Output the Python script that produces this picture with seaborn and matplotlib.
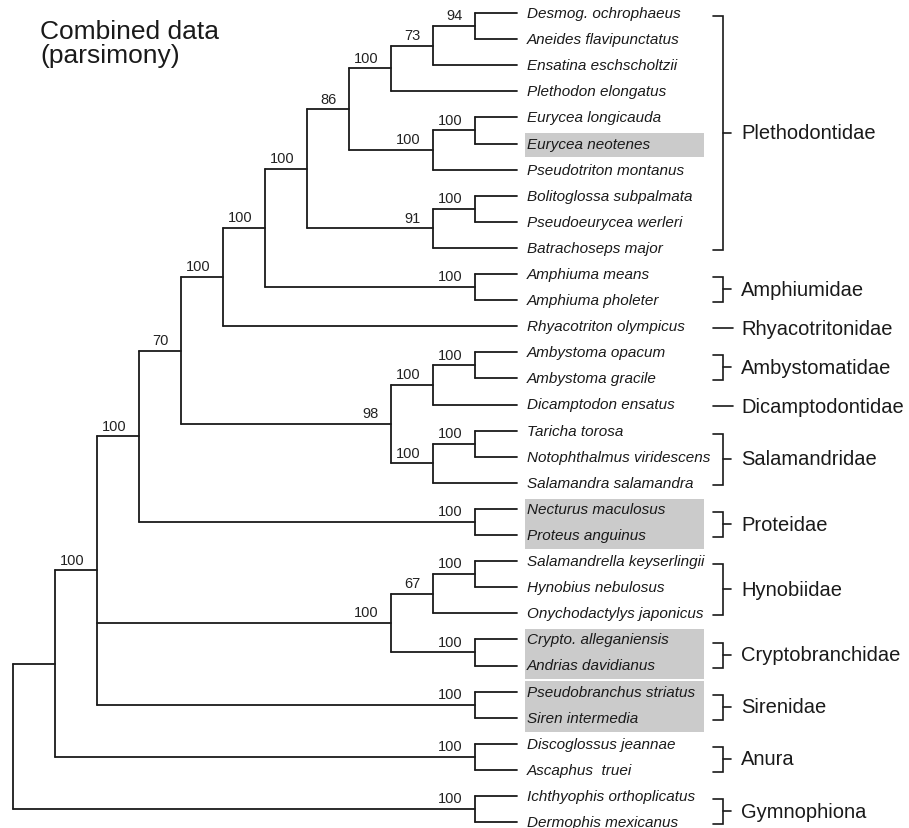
import matplotlib
matplotlib.use("Agg")
import matplotlib.pyplot as plt
import seaborn as sns
import pandas as pd

# ---------------- data ----------------
TITLE = "Combined data\n(parsimony)"

LEAVES = [
    "Desmog. ochrophaeus", "Aneides flavipunctatus", "Ensatina eschscholtzii",
    "Plethodon elongatus", "Eurycea longicauda", "Eurycea neotenes",
    "Pseudotriton montanus", "Bolitoglossa subpalmata", "Pseudoeurycea werleri",
    "Batrachoseps major", "Amphiuma means", "Amphiuma pholeter",
    "Rhyacotriton olympicus", "Ambystoma opacum", "Ambystoma gracile",
    "Dicamptodon ensatus", "Taricha torosa", "Notophthalmus viridescens",
    "Salamandra salamandra", "Necturus maculosus", "Proteus anguinus",
    "Salamandrella keyserlingii", "Hynobius nebulosus", "Onychodactylys japonicus",
    "Crypto. alleganiensis", "Andrias davidianus", "Pseudobranchus striatus",
    "Siren intermedia", "Discoglossus jeannae", "Ascaphus  truei",
    "Ichthyophis orthoplicatus", "Dermophis mexicanus",
]

# topology (leaf indices) with bootstrap support after each clade
TREE = ("((((((((((((0,1)94,2)73,3)100,((4,5)100,6)100)86,((7,8)100,9)91)100,"
        "(10,11)100)100,12)100,(((13,14)100,15)100,((16,17)100,18)100)98)70,"
        "(19,20)100)100,(((21,22)100,23)67,(24,25)100)100,(26,27)100)100,"
        "(28,29)100),(30,31)100)")

FAMILIES = ["Plethodontidae", "Amphiumidae", "Rhyacotritonidae", "Ambystomatidae",
            "Dicamptodontidae", "Salamandridae", "Proteidae", "Hynobiidae",
            "Cryptobranchidae", "Sirenidae", "Anura", "Gymnophiona"]
FAMILY_FIRST = [0, 10, 12, 13, 15, 16, 19, 21, 24, 26, 28, 30]
FAMILY_LAST = [9, 11, 12, 14, 15, 18, 20, 23, 25, 27, 29, 31]

HIGHLIGHT_FIRST = [5, 19, 24, 26]
HIGHLIGHT_LAST = [5, 20, 25, 27]


# ---------------- parse tree ----------------
def parse(s):
    pos = [0]

    def read_num():
        start = pos[0]
        while pos[0] < len(s) and s[pos[0]].isdigit():
            pos[0] += 1
        return int(s[start:pos[0]]) if pos[0] > start else None

    def node():
        if s[pos[0]] == "(":
            pos[0] += 1
            kids = [node()]
            while s[pos[0]] == ",":
                pos[0] += 1
                kids.append(node())
            assert s[pos[0]] == ")"
            pos[0] += 1
            sup = read_num()
            return {"kids": kids, "support": sup}
        return {"kids": [], "leaf": read_num()}

    return node()


root = parse(TREE)


def layout(n):
    if not n["kids"]:
        n["y"] = n["leaf"]
        n["h"] = 0
        return
    for k in n["kids"]:
        layout(k)
    n["y"] = (n["kids"][0]["y"] + n["kids"][-1]["y"]) / 2
    n["h"] = 1 + max(k["h"] for k in n["kids"])


layout(root)
H = root["h"]

segs = []
supports = []


def collect(n):
    n["x"] = H - n["h"]
    for k in n["kids"]:
        k["x"] = H - k["h"]
    if n["kids"]:
        segs.append([(n["x"], n["kids"][0]["y"]), (n["x"], n["kids"][-1]["y"])])
        for k in n["kids"]:
            segs.append([(n["x"], k["y"]), (k["x"], k["y"])])
            if k["kids"] and k.get("support") is not None:
                supports.append((k["x"], k["y"], k["support"]))
            collect(k)


collect(root)

rows = []
for i, s in enumerate(segs):
    for (x, y) in s:
        rows.append({"x": x, "y": y, "seg": i})
df = pd.DataFrame(rows)

# ---------------- draw ----------------
sns.set_style("white")
plt.rcParams["font.family"] = ["Liberation Sans", "DejaVu Sans"]

fig = plt.figure(figsize=(9.09, 8.29), dpi=100)
ax = fig.add_axes([0, 0, 1, 1])

PX = 42.0      # pixels per tree level
PY = 26.1      # pixels per leaf row
ax.set_xlim(-13 / PX, (909 - 13) / PX)
ax.set_ylim((829 - 14) / PY, -14 / PY)

# highlight boxes
for f, l in zip(HIGHLIGHT_FIRST, HIGHLIGHT_LAST):
    ax.barh((f + l) / 2 + 0.07, width=179 / PX, left=H + 8 / PX,
            height=(l - f) + 0.93, color="#cbcbcb", edgecolor="none", zorder=0)

sns.lineplot(data=df, x="x", y="y", units="seg", estimator=None, sort=False,
             color="#1a1a1a", lw=1.3, ax=ax, legend=False)

for x, y, s in supports:
    ax.text(x - 0.3, y - 0.14, str(s), ha="right", va="bottom", fontsize=10.5,
            color="#222222")

for i, name in enumerate(LEAVES):
    ax.text(H + 10 / PX, i, name, ha="left", va="center", fontsize=11,
            style="italic", color="#1a1a1a")

xl, xb, xm, xt = H + 196 / PX, H + 206 / PX, H + 214 / PX, H + 224 / PX
for name, f, l in zip(FAMILIES, FAMILY_FIRST, FAMILY_LAST):
    mid = (f + l) / 2 + 0.08
    if f == l:
        ax.plot([xl, H + 216 / PX], [f + 0.05, f + 0.05], color="#1a1a1a", lw=1.2)
    else:
        ax.plot([xl, xb, xb, xl], [f + 0.12, f + 0.12, l + 0.08, l + 0.08],
                color="#1a1a1a", lw=1.2, solid_joinstyle="miter")
        ax.plot([xb, xm], [mid, mid], color="#1a1a1a", lw=1.2)
    ax.text(xt, mid, name, ha="left", va="center", fontsize=14.5, color="#1a1a1a")

ax.text(27 / PX, 0.22, TITLE, ha="left", va="top", fontsize=19, linespacing=1.03,
        color="#1a1a1a")

ax.set_axis_off()
fig.savefig("out.png", dpi=100)
